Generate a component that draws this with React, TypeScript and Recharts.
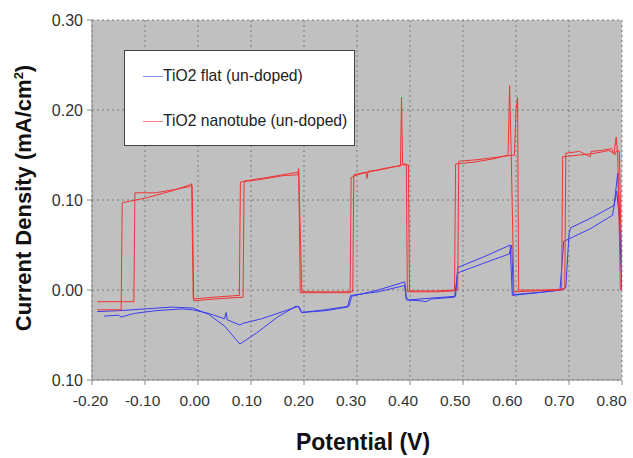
import React from 'react';
import { LineChart, Line, XAxis, YAxis, CartesianGrid } from 'recharts';

// potential (V), current density (mA/cm2)
const nanotubeScanA = [
  { x: -0.19, y: -0.022 }, { x: -0.145, y: -0.022 }, { x: -0.143, y: 0.097 }, { x: -0.1, y: 0.102 },
  { x: -0.05, y: 0.11 }, { x: -0.015, y: 0.117 }, { x: -0.012, y: 0.118 }, { x: -0.009, y: -0.01 },
  { x: 0.03, y: -0.008 }, { x: 0.078, y: -0.006 }, { x: 0.08, y: 0.12 }, { x: 0.12, y: 0.123 },
  { x: 0.16, y: 0.127 }, { x: 0.188, y: 0.128 }, { x: 0.19, y: 0.135 }, { x: 0.193, y: -0.003 },
  { x: 0.25, y: -0.003 }, { x: 0.287, y: -0.003 }, { x: 0.289, y: 0.125 }, { x: 0.3, y: 0.128 },
  { x: 0.35, y: 0.135 }, { x: 0.382, y: 0.138 }, { x: 0.384, y: 0.214 }, { x: 0.386, y: 0.14 },
  { x: 0.393, y: 0.14 }, { x: 0.395, y: -0.002 }, { x: 0.45, y: -0.002 }, { x: 0.484, y: -0.001 },
  { x: 0.486, y: 0.14 }, { x: 0.52, y: 0.142 }, { x: 0.56, y: 0.146 }, { x: 0.585, y: 0.15 },
  { x: 0.588, y: 0.227 }, { x: 0.591, y: 0.15 }, { x: 0.596, y: -0.002 }, { x: 0.64, y: -0.001 },
  { x: 0.686, y: 0.0 }, { x: 0.688, y: 0.148 }, { x: 0.72, y: 0.15 }, { x: 0.75, y: 0.152 },
  { x: 0.775, y: 0.155 }, { x: 0.785, y: 0.152 }, { x: 0.789, y: 0.17 }, { x: 0.792, y: 0.15 },
  { x: 0.797, y: 0.0 },
];

const nanotubeScanB = [
  { x: -0.19, y: -0.013 }, { x: -0.121, y: -0.013 }, { x: -0.119, y: 0.108 }, { x: -0.08, y: 0.108 },
  { x: -0.04, y: 0.112 }, { x: -0.015, y: 0.115 }, { x: -0.011, y: 0.116 }, { x: -0.008, y: -0.012 },
  { x: 0.03, y: -0.01 }, { x: 0.085, y: -0.008 }, { x: 0.087, y: 0.121 }, { x: 0.13, y: 0.125 },
  { x: 0.17, y: 0.129 }, { x: 0.19, y: 0.131 }, { x: 0.196, y: -0.002 }, { x: 0.25, y: -0.002 },
  { x: 0.292, y: -0.002 }, { x: 0.294, y: 0.128 }, { x: 0.317, y: 0.131 }, { x: 0.319, y: 0.124 },
  { x: 0.321, y: 0.132 }, { x: 0.34, y: 0.133 }, { x: 0.386, y: 0.139 }, { x: 0.397, y: 0.139 },
  { x: 0.399, y: -0.001 }, { x: 0.45, y: -0.001 }, { x: 0.49, y: 0.0 }, { x: 0.492, y: 0.143 },
  { x: 0.53, y: 0.145 }, { x: 0.57, y: 0.148 }, { x: 0.597, y: 0.15 }, { x: 0.6, y: 0.2 },
  { x: 0.603, y: 0.214 }, { x: 0.605, y: 0.0 }, { x: 0.65, y: 0.0 }, { x: 0.692, y: 0.001 },
  { x: 0.694, y: 0.152 }, { x: 0.72, y: 0.154 }, { x: 0.74, y: 0.148 }, { x: 0.742, y: 0.154 },
  { x: 0.76, y: 0.155 }, { x: 0.78, y: 0.157 }, { x: 0.786, y: 0.15 }, { x: 0.79, y: 0.155 },
  { x: 0.795, y: 0.154 }, { x: 0.8, y: 0.0 },
];

const flatScanA = [
  { x: -0.19, y: -0.024 }, { x: -0.15, y: -0.023 }, { x: -0.1, y: -0.021 }, { x: -0.05, y: -0.019 },
  { x: -0.01, y: -0.02 }, { x: 0.02, y: -0.027 }, { x: 0.05, y: -0.04 }, { x: 0.079, y: -0.06 },
  { x: 0.11, y: -0.048 }, { x: 0.15, y: -0.03 }, { x: 0.185, y: -0.018 }, { x: 0.19, y: -0.019 },
  { x: 0.195, y: -0.025 }, { x: 0.24, y: -0.022 }, { x: 0.285, y: -0.018 }, { x: 0.29, y: -0.007 },
  { x: 0.34, y: 0.0 }, { x: 0.39, y: 0.009 }, { x: 0.393, y: -0.008 }, { x: 0.398, y: -0.011 },
  { x: 0.44, y: -0.009 }, { x: 0.486, y: -0.007 }, { x: 0.49, y: 0.025 }, { x: 0.54, y: 0.037 },
  { x: 0.589, y: 0.05 }, { x: 0.593, y: -0.006 }, { x: 0.64, y: -0.003 }, { x: 0.686, y: 0.0 },
  { x: 0.694, y: 0.003 }, { x: 0.7, y: 0.062 }, { x: 0.703, y: 0.069 }, { x: 0.745, y: 0.081 },
  { x: 0.785, y: 0.094 }, { x: 0.792, y: 0.13 }, { x: 0.797, y: 0.06 }, { x: 0.8, y: 0.0 },
];

const flatScanB = [
  { x: -0.177, y: -0.029 }, { x: -0.15, y: -0.028 }, { x: -0.145, y: -0.03 }, { x: -0.12, y: -0.026 },
  { x: -0.08, y: -0.023 }, { x: -0.03, y: -0.021 }, { x: -0.01, y: -0.022 }, { x: 0.02, y: -0.026 },
  { x: 0.05, y: -0.032 }, { x: 0.053, y: -0.025 }, { x: 0.055, y: -0.033 }, { x: 0.079, y: -0.039 },
  { x: 0.085, y: -0.037 }, { x: 0.12, y: -0.032 }, { x: 0.16, y: -0.024 }, { x: 0.19, y: -0.018 },
  { x: 0.196, y: -0.025 }, { x: 0.24, y: -0.023 }, { x: 0.282, y: -0.019 }, { x: 0.288, y: -0.006 },
  { x: 0.34, y: -0.002 }, { x: 0.39, y: 0.005 }, { x: 0.393, y: -0.011 }, { x: 0.42, y: -0.012 },
  { x: 0.43, y: -0.013 }, { x: 0.44, y: -0.01 }, { x: 0.484, y: -0.008 }, { x: 0.49, y: 0.019 },
  { x: 0.54, y: 0.03 }, { x: 0.587, y: 0.04 }, { x: 0.592, y: 0.05 }, { x: 0.595, y: -0.005 },
  { x: 0.64, y: -0.003 }, { x: 0.683, y: 0.0 }, { x: 0.69, y: 0.054 }, { x: 0.74, y: 0.068 },
  { x: 0.782, y: 0.083 }, { x: 0.79, y: 0.11 }, { x: 0.795, y: 0.08 }, { x: 0.8, y: 0.0 },
];

const xTicks = [-0.2, -0.1, 0, 0.1, 0.2, 0.3, 0.4, 0.5, 0.6, 0.7, 0.8];
const yTicks = [-0.1, 0, 0.1, 0.2, 0.3];
const seriesNames = ['TiO2 flat (un-doped)', 'TiO2 nanotube (un-doped)'];

const BLUE = '#3c3cf0';
const RED = '#f03434';
const font = '"Liberation Sans", Arial, sans-serif';

// labels in the original sit a touch left of their ticks, more so toward the right end
const XTick = (props: any) => {
  const { x, y, payload } = props;
  const v = payload.value as number;
  const shift = -1.5 - (v + 0.2) * 9;
  return (
    <text x={x + shift} y={y} dy="0.71em" textAnchor="middle" fill="#333" fontSize={15.5} fontFamily={font}>
      {v.toFixed(2)}
    </text>
  );
};

const App = () => {
  return (
    <div style={{ position: 'absolute', left: 0, top: 0, width: 633, height: 458, background: '#fff', fontFamily: font }}>
      <LineChart width={633} height={458} margin={{ top: 20, right: 11, left: 20, bottom: 48 }}>
        <CartesianGrid fill="#c0c0c0" stroke="#7a7a7a" strokeDasharray="2 3" />
        <XAxis
          type="number"
          dataKey="x"
          domain={[-0.2, 0.8]}
          ticks={xTicks}
          allowDataOverflow
          height={30}
          tickSize={5}
          tickMargin={10}
          tick={<XTick />}
          stroke="#888"
        />
        <YAxis
          type="number"
          domain={[-0.1, 0.3]}
          ticks={yTicks}
          allowDataOverflow
          width={72}
          tickSize={5}
          tickMargin={4}
          tickFormatter={(v: number) => Math.abs(v).toFixed(2)}
          tick={{ fill: '#333', fontSize: 16, fontFamily: font }}
          stroke="#888"
        />
        <Line data={flatScanB} dataKey="y" stroke={BLUE} strokeWidth={1} dot={false} isAnimationActive={false} />
        <Line data={flatScanA} dataKey="y" stroke={BLUE} strokeWidth={1} dot={false} isAnimationActive={false} />
        <Line data={nanotubeScanB} dataKey="y" stroke={RED} strokeWidth={1} dot={false} isAnimationActive={false} />
        <Line data={nanotubeScanA} dataKey="y" stroke={RED} strokeWidth={1} dot={false} isAnimationActive={false} />
      </LineChart>

      <div
        style={{
          position: 'absolute', left: 124, top: 50, width: 231, height: 96,
          background: '#fff', border: '1px solid #444', boxSizing: 'border-box', fontSize: 15.7, color: '#222',
        }}
      >
        {[BLUE, RED].map((c, i) => (
          <div key={i} style={{ position: 'absolute', left: 18, top: i === 0 ? 16 : 61, display: 'flex', alignItems: 'center' }}>
            <span style={{ display: 'inline-block', width: 20, height: 1, background: c, opacity: 0.6 }} />
            <span>{seriesNames[i]}</span>
          </div>
        ))}
      </div>

      <div
        style={{
          position: 'absolute', left: 24, top: 198, transform: 'translate(-50%, -50%) rotate(-90deg)',
          whiteSpace: 'nowrap', fontWeight: 'bold', fontSize: 22, color: '#111',
        }}
      >
        Current Density (mA/cm<sup style={{ fontSize: 13 }}>2</sup>)
      </div>
      <div
        style={{
          position: 'absolute', left: 363, top: 442, transform: 'translate(-50%, -50%)',
          whiteSpace: 'nowrap', fontWeight: 'bold', fontSize: 23, color: '#111',
        }}
      >
        Potential (V)
      </div>
    </div>
  );
};

export default App;
